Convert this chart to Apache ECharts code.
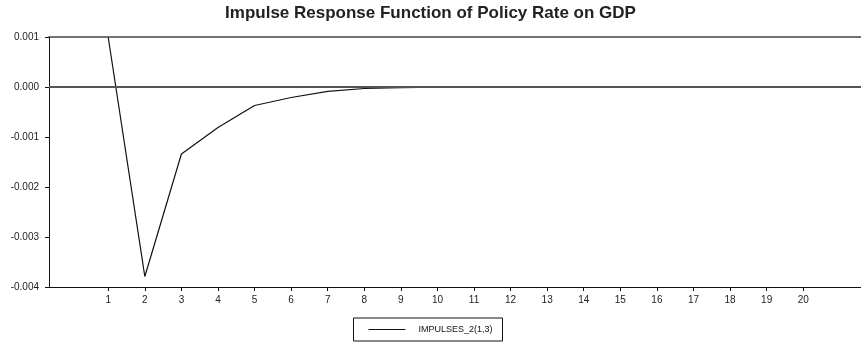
<!DOCTYPE html>
<html>
<head>
<meta charset="utf-8">
<script src="https://cdn.jsdelivr.net/npm/echarts@6/dist/echarts.min.js"></script>
<style>
  html, body { margin: 0; padding: 0; background: #fff; }
  #chart { width: 861px; height: 344px; }
</style>
</head>
<body>
<div id="chart"></div>
<script>
// periods after the shock
const periods = [1, 2, 3, 4, 5, 6, 7, 8, 9, 10, 11, 12, 13, 14, 15, 16, 17, 18, 19, 20];
// response of GDP to a policy rate shock
const response = [0.00099, -0.00379, -0.00134, -0.00081, -0.00037, -0.00021, -0.000087, -0.00003,
  -0.000012, -0.000004, 0, 0, 0, 0, 0, 0, 0, 0, 0, 0];
const seriesName = 'IMPULSES_2(1,3)';

const chart = echarts.init(document.getElementById('chart'));

const font = 'Liberation Sans, Arial, sans-serif';

const option = {
    animation: false,
    title: {
        text: 'Impulse Response Function of Policy Rate on GDP',
        left: 'center',
        top: 0,
        textStyle: { fontFamily: font, fontSize: 17, fontWeight: 'bold', color: '#222' }
    },
    legend: {
        data: [{ name: seriesName, icon: 'rect' }],
        bottom: 3,
        left: 'center',
        itemWidth: 37,
        itemHeight: 1,
        padding: [7, 10, 7, 15],
        borderColor: '#111',
        borderWidth: 1,
        textStyle: { fontFamily: font, fontSize: 9, color: '#111', padding: [0, 0, 0, 8] }
    },
    grid: { left: 49, right: 0, top: 37, bottom: 57 },
    xAxis: [
        {
            type: 'value',
            min: -0.62,
            max: 21.58,
            axisLine: { onZero: false, lineStyle: { color: '#111', width: 1 } },
            axisTick: { customValues: periods, length: 4, lineStyle: { color: '#111' } },
            axisLabel: { customValues: periods, fontFamily: font, fontSize: 10, color: '#222', margin: 8 },
            splitLine: { show: false }
        },
        {
            // top frame line
            type: 'value',
            position: 'top',
            min: -0.62,
            max: 21.58,
            axisLine: { show: true, onZero: false, lineStyle: { color: '#444', width: 1.5 } },
            axisTick: { show: false },
            axisLabel: { show: false },
            splitLine: { show: false }
        }
    ],
    yAxis: {
        type: 'value',
        min: -0.004,
        max: 0.001,
        interval: 0.001,
        axisLine: { show: true, onZero: false, lineStyle: { color: '#111', width: 1 } },
        axisTick: { show: true, length: 4, lineStyle: { color: '#111' } },
        axisLabel: {
            fontFamily: font, fontSize: 10, color: '#222', margin: 10,
            formatter: v => v.toFixed(3)
        },
        splitLine: { show: false }
    },
    series: [
        {
            name: seriesName,
            type: 'line',
            data: periods.map((p, i) => [p, response[i]]),
            showSymbol: false,
            lineStyle: { color: '#111', width: 1.2 },
            itemStyle: { color: '#111' },
            z: 2
        },
        {
            // zero line, drawn over the flat tail of the response
            type: 'line',
            data: [],
            z: 5,
            silent: true,
            markLine: {
                symbol: 'none',
                silent: true,
                label: { show: false },
                lineStyle: { color: '#555', width: 2, type: 'solid' },
                data: [{ yAxis: 0 }]
            }
        }
    ]
};

chart.setOption(option);
</script>
</body>
</html>
